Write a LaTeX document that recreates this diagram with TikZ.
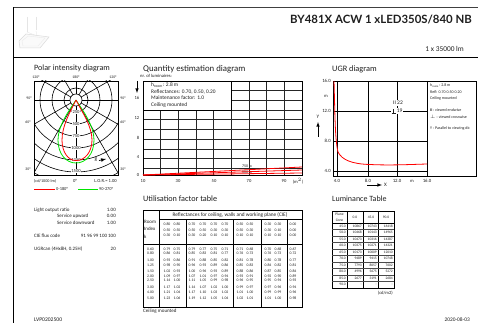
\documentclass[tikz,border=0pt]{standalone}
\usepackage{fontspec}
\setmainfont{Carlito}
\newfontfamily\titlefont{Lato}
\definecolor{txt}{gray}{0.12}
\tikzset{
  t/.style={inner sep=0pt,text=txt,font=\fontsize{#1}{#1}\selectfont},
  t/.default=4,
  tl/.style={t=#1,anchor=west},
  tl/.default=4,
  tr/.style={t=#1,anchor=east},
  tr/.default=4,
  heavy/.style={draw=black,line width=0.8pt},
  grid/.style={draw=black!85,line width=0.6pt},
  thinrow/.style={draw=black!70,line width=0.5pt},
  redc/.style={draw=red,line width=0.8pt},
  greenc/.style={draw=green!90!black,line width=0.8pt},
}
\begin{document}
\begin{tikzpicture}[x=1pt,y=-1pt]
\useasboundingbox[fill=white] (0,0) rectangle (478,323);
% frame
\draw[draw=black!75,line width=0.9pt] (13,7.5) -- (478,7.5);
\draw[heavy] (13,7.5) -- (13,323);
\draw[heavy] (13,57.5) -- (478,57.5);
% luminaire picture
\draw[black!10,line width=0.3pt] (27,17) -- (27,32) (36,17) -- (36,30);
\draw[black!10,line width=0.3pt] (27,32) -- (37,36) (36,31) -- (37,36);
\filldraw[draw=black!14,fill=black!2,line width=0.5pt] (19,41) -- (26,34) -- (49,37) -- (40,48) -- (20,48) -- cycle;
\draw[black!8,line width=0.4pt] (22,41) -- (28,36) -- (45,38) -- (38,46) -- (23,46) -- cycle;
% header text
\node[tr=11.4] at (472,20) {\titlefont\bfseries BY481X ACW 1 xLED350S/840 NB};
\node[tr=7.4] at (464,49) {1 x 35000 lm};
% section titles
\node[tl=8.1] at (34,68.8) {Polar intensity diagram};
\node[tl=8.8] at (143,69.5) {Quantity estimation diagram};
\node[tl=8.3] at (332,69.5) {UGR diagram};
\node[tl=8.2] at (143,199) {Utilisation factor table};
\node[tl=8] at (332,199) {Luminance Table};
% ---------- polar
\begin{scope}
\clip (34,81) rectangle (118,175);
\foreach \r in {6,12,24,36,48,60,72,84,96,108}
  \draw[black,line width=0.6pt] (76,100) circle (\r);
\foreach \a in {30,60,120,150,210,240,300,330}
  \draw[black,line width=0.6pt] (76,100) ++(\a:6) -- ++(\a:130);
\draw[black,line width=0.8pt] (34,100) -- (70,100) (82,100) -- (118,100);
\draw[black,line width=0.6pt] (76,81) -- (76,94);
\draw[black,line width=0.6pt] (76,106) -- (76,175);
\end{scope}
\foreach \v/\y in {250/112,500/124,750/136,1000/148,1250/160,1500/171}
  \node[t=4.6,fill=white,inner xsep=0.6pt] at (76,\y) {\v};
\draw[greenc] (76,100) .. controls (68,112) and (58,126) .. (58,140)
   .. controls (58,154) and (66,163) .. (76,163)
   .. controls (86,163) and (94,154) .. (94,140)
   .. controls (94,126) and (84,112) .. (76,100);
\draw[redc] (76,100) .. controls (70,112) and (62,126) .. (62,140)
   .. controls (62,152) and (68,160.5) .. (76,160.5)
   .. controls (85,160.5) and (92,152) .. (92,140)
   .. controls (92,126) and (82,112) .. (76,100);
\draw[heavy] (34,81) rectangle (118,175);
\foreach \l/\x/\y in {120/36/77,180/76/77,120/113/77,90/29/98,90/123/98,60/28/122,60/123/122,30/28/169,30/123/169}
  \node[t=3.8] at (\x,\y) {\l°};
\node[t=5.5,fill=white,inner xsep=1pt] at (96,160) {g};
\coordinate (gs) at (99,160.5);
\coordinate (ge) at (106,159);
\draw[black,line width=0.7pt,-latex] (gs) -- (ge);
\node[tl=4.2] at (34,181) {(cd/1000 lm)};
\node[t=4.6] at (75,181) {0°};
\node[tr=4.6] at (117,181) {L.O.R.= 1.00};
\coordinate (ra) at (34,189.5); \coordinate (rb) at (55,189.5);
\coordinate (ga) at (78,189.5); \coordinate (gb) at (98,189.5);
\draw[redc] (ra) -- (rb);
\draw[greenc] (ga) -- (gb);
\node[tl=4.4] at (56,189.5) {0-180°};
\node[tl=4.4] at (99,189.5) {90-270°};
% left data
\node[tl=5] at (34,210) {Light output ratio};
\node[tr=5] at (116,210) {1.00};
\node[tl=5] at (57,216) {Service upward};
\node[tr=5] at (116,216) {0.00};
\node[tl=5] at (57,223) {Service downward};
\node[tr=5] at (116,223) {1.00};
\node[tl=5] at (34,236) {CIE flux code};
\node[tr=5] at (116,236) {91 96 99 100 100};
\node[tl=5] at (34,249) {UGRcan (4Hx8H, 0.25H)};
\node[tr=5] at (116,249) {20};
\node[tl=5.6] at (34,320) {LVP0202500};
\node[tr=5.4] at (470,320) {2020-08-03};
% ---------- quantity
\foreach \i in {1,...,8}
  \draw[grid] ({143+\i*17.67},81) -- ({143+\i*17.67},175);
\foreach \i in {1,...,9}
  \draw[grid] (143,{81+\i*9.7}) -- (302,{81+\i*9.7});
\draw[heavy] (143,81) rectangle (302,175);
\filldraw[draw=black,fill=white,line width=0.6pt] (143,81) rectangle (231,110);
\node[tl=5.4] at (151,85.5) {h$_{\mathrm{room}}$: 2.8 m};
\node[tl=5.4] at (151,92) {Reflectances: 0.70, 0.50, 0.20};
\node[tl=5.4] at (151,98) {Maintenance factor: 1.0};
\node[tl=5.4] at (151,105) {Ceiling mounted};
\node[t=4] at (247,166) {750 lx};
\node[t=4] at (247,172) {500 lx};
\coordinate (qo) at (143,175);
\coordinate (q1) at (302,167); \coordinate (q2) at (302,170); \coordinate (q3) at (302,173);
\draw[redc] (qo) -- (q1);
\draw[redc] (qo) -- (q2);
\draw[redc] (qo) -- (q3);
\node[tl=4.6] at (140,75.8) {nr. of luminaires:};
\foreach \v/\y in {16/98,12/118,8/138,4/157,0/175}
  \node[tr=4.6] at (139.5,\y) {\v};
\coordinate (na) at (137,81); \coordinate (nb) at (137,93);
\draw[black,line width=0.6pt,-latex] (na) -- (nb);
\foreach \v/\x in {10/143,30/178,50/214,70/249,90/284}
  \node[t=4.6] at (\x,181) {\v};
\node[t=4.6] at (298,181) {(m$^{2}$)};
% ---------- UGR
\foreach \x in {337,368,397}
  \draw[heavy] (\x,81) -- (\x,176);
\foreach \y in {111,141,171}
  \draw[heavy] (333,\y) -- (427,\y);
\draw[heavy] (333,81) rectangle (476,176);
\draw[heavy] (427,81) -- (427,176);
\draw[redc] (334,81) .. controls (335,115) and (335,140) .. (338,152)
   .. controls (342,160) and (352,164) .. (370,164.5)
   .. controls (390,165.5) and (410,164.5) .. (427,164);
\node[t=5.5,fill=white,inner xsep=1pt,inner ysep=1pt] at (398,103) {II 22};
\node[t=5.5,fill=white,inner xsep=1pt,inner ysep=1pt] at (397,111) {\rlap{\rule[0pt]{4pt}{0.4pt}}\hspace{1.7pt}\rule{0.5pt}{4pt}\hspace{1.7pt} 19};
\foreach \v/\y in {16.0/81,12.0/111,8.0/141,4.0/171}
  \node[tr=4.8] at (331,\y) {\v};
\node[t=4.6] at (326,96) {m};
\node[t=5.2] at (318,117) {Y};
\coordinate (ya) at (318,137); \coordinate (yb) at (318,122);
\draw[black,line width=0.6pt,-latex] (ya) -- (yb);
\foreach \v/\x in {4.0/337,8.0/368,12.0/397,16.0/427}
  \node[t=4.8] at (\x,181) {\v};
\node[t=4.6] at (412,181) {m};
\coordinate (xa) at (367,185); \coordinate (xb) at (382,185);
\draw[black,line width=0.6pt,-latex] (xa) -- (xb);
\node[t=5.2] at (385.5,185) {X};
\node[tl=4] at (430,85.5) {h$_{\mathrm{room}}$: 2.8 m};
\node[tl=4] at (430,92) {Refl: 0.70 0.50 0.20};
\node[tl=4] at (430,98.5) {Ceiling mounted};
\node[tl=4] at (430,110.5) {\textbf{II} : viewed endwise};
\node[tl=4] at (430,116.5) {\textbf{$\perp$} : viewed crosswise};
\node[tl=4] at (430,128.5) {Y : Parallel to viewing dir.};
% ---------- utilisation table
\draw[heavy] (143,210) rectangle (302,307);
\draw[heavy] (159,210) -- (159,244);
\draw[heavy] (159,219) -- (302,219);
\draw[heavy] (143,244) -- (302,244);
\foreach \x in {159,186,233,261,287}
  \draw[heavy] (\x,219) -- (\x,307);
\node[t=5.3] at (230,215) {Reflectances for ceiling, walls and working plane (CIE)};
\node[tl=5] at (144,221.5) {Room};
\node[tl=5] at (144,229) {Index};
\node[tl=5] at (144,237) {k};
\newcommand{\urow}[2]{%
  \foreach \v [count=\j] in {#2} {
    \pgfmathsetmacro{\xx}{{167,177,192,203,214,225,240,250,268,278,293}[\j-1]}
    \node[t=3.8] at (\xx,#1) {\v};
  }}
\urow{224}{0.80,0.80,0.70,0.70,0.70,0.70,0.50,0.50,0.30,0.30,0.00}
\urow{230}{0.50,0.50,0.50,0.50,0.30,0.30,0.50,0.30,0.30,0.10,0.00}
\urow{235}{0.30,0.10,0.30,0.20,0.10,0.10,0.10,0.10,0.10,0.10,0.00}
\urow{249}{0.79,0.75,0.79,0.77,0.75,0.71,0.71,0.68,0.70,0.68,0.67}
\urow{253.5}{0.86,0.81,0.85,0.83,0.81,0.77,0.76,0.73,0.76,0.73,0.72}
\urow{260}{0.93,0.86,0.91,0.88,0.85,0.82,0.81,0.78,0.80,0.78,0.77}
\urow{265}{0.98,0.90,0.96,0.93,0.89,0.86,0.85,0.83,0.84,0.82,0.81}
\urow{271}{1.02,0.93,1.00,0.96,0.93,0.89,0.88,0.86,0.87,0.85,0.84}
\urow{276}{1.09,0.97,1.07,1.01,0.97,0.94,0.93,0.91,0.92,0.90,0.89}
\urow{280.5}{1.14,1.00,1.11,1.05,0.99,0.98,0.96,0.95,0.95,0.94,0.93}
\urow{287}{1.17,1.02,1.14,1.07,1.02,1.00,0.99,0.97,0.97,0.96,0.94}
\urow{292}{1.21,1.04,1.17,1.10,1.03,1.02,1.01,1.00,0.99,0.99,0.96}
\urow{298.5}{1.23,1.06,1.19,1.12,1.05,1.04,1.02,1.01,1.01,1.00,0.98}
\foreach \k/\y in {0.60/249,0.80/253.5,1.00/260,1.25/265,1.50/271,2.00/276,2.50/280.5,3.00/287,4.00/292,5.00/298.5}
  \node[t=3.8] at (150.5,\y) {\k};
\node[tl=5] at (143,311) {Ceiling mounted};
% ---------- luminance table
\draw[heavy] (332,211) rectangle (394,288);
\foreach \x in {347,363,378}
  \draw[heavy] (\x,211) -- (\x,288);
\draw[heavy] (332,223) -- (394,223);
\foreach \i in {1,...,9}
  \draw[thinrow] (332,{223+\i*6.5}) -- (394,{223+\i*6.5});
\node[t=3.6] at (339.5,214.5) {Plane};
\node[t=3.6] at (339.5,220) {Cone};
\foreach \v/\x in {0.0/355,45.0/371,90.0/386}
  \node[t=3.6] at (\x,217) {\v};
\foreach \c/\a/\b/\d [count=\i] in {45.0/10867/10743/16418,50.0/10468/10143/14965,55.0/10473/10316/14387,60.0/10375/10271/14321,65.0/10173/10009/12010,70.0/9489/9415/10748,75.0/7793/8057/7602,80.0/4996/5675/5272,85.0/2677/3191/2684,90.0/-/-/-}{
  \pgfmathsetmacro{\yy}{223+(\i-0.5)*6.5}
  \node[tr=3.6] at (346,\yy) {\c};
  \node[tr=3.6] at (362,\yy) {\a};
  \node[tr=3.6] at (377,\yy) {\b};
  \node[tr=3.6] at (393,\yy) {\d};
}
\node[tr=4.6] at (393,293.5) {(cd/m2)};
\end{tikzpicture}
\end{document}
